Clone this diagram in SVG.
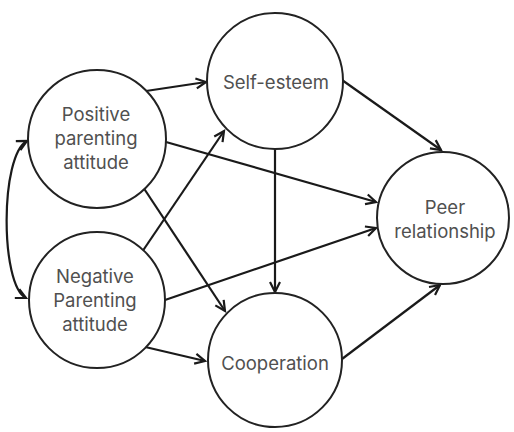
<svg xmlns="http://www.w3.org/2000/svg" width="514" height="432" viewBox="0 0 514 432">
<style>
.node circle{fill:#fff;stroke:#222;stroke-width:2}
.node text{font-family:Inter,"Open Sans",sans-serif;font-size:18.5px;fill:#505050;text-anchor:middle}
.conn path{fill:none;stroke:#1a1a1a;stroke-width:2.2;marker-end:url(#arr)}
</style>
<defs>
<marker id="arr" markerUnits="userSpaceOnUse" markerWidth="14" markerHeight="14" refX="11" refY="6" orient="auto-start-reverse" viewBox="0 0 14 12">
<path d="M1,1 L11,6 L1,11" fill="none" stroke="#1a1a1a" stroke-width="2.2"/>
</marker>
</defs>
<rect width="514" height="432" fill="#fff"/>
<g id="connectors" class="conn">
<path d="M146,91 L206,82"/>
<path d="M166,142 L376,202"/>
<path d="M143,187 L225,311"/>
<path d="M142,252 L224,131"/>
<path d="M165,300 L376,228"/>
<path d="M141,346 L205,361"/>
<path d="M275,149 L275,292"/>
<path d="M342,80 L441,150"/>
<path d="M342,359 L440,285"/>
<path d="M27,141 C0,155 0,285 26,298" style="marker-start:url(#arr)"/>
</g>
<g id="positive" class="node">
<circle cx="97" cy="139" r="69"/>
<text x="96" y="121">Positive</text>
<text x="96" y="145">parenting</text>
<text x="96" y="169">attitude</text>
</g>
<g id="negative" class="node">
<circle cx="97" cy="300" r="68"/>
<text x="95" y="283">Negative</text>
<text x="95" y="307">Parenting</text>
<text x="95" y="331">attitude</text>
</g>
<g id="selfesteem" class="node">
<circle cx="275" cy="81" r="68"/>
<text x="276" y="89">Self-esteem</text>
</g>
<g id="cooperation" class="node">
<circle cx="275" cy="360" r="67"/>
<text x="275" y="370">Cooperation</text>
</g>
<g id="peer" class="node">
<circle cx="443" cy="218" r="66"/>
<text x="445" y="214">Peer</text>
<text x="445" y="238">relationship</text>
</g>
</svg>
